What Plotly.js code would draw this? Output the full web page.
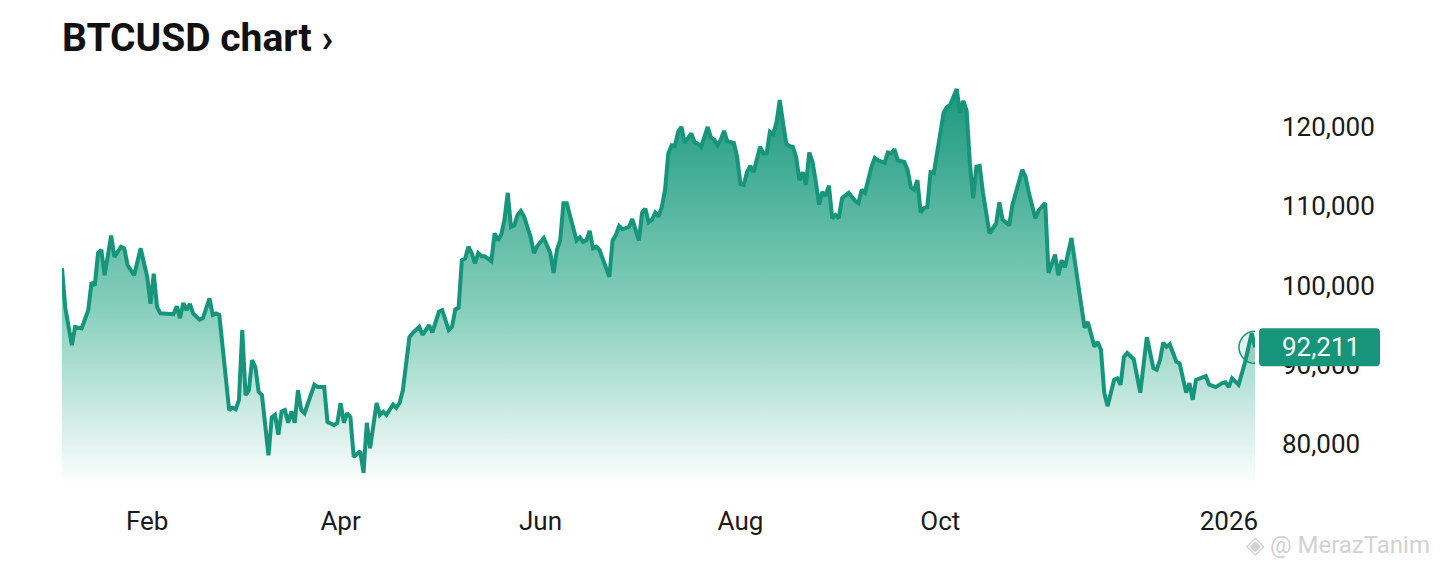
<!DOCTYPE html>
<html>
<head>
<meta charset="utf-8">
<script src="https://cdn.plot.ly/plotly-3.0.1.min.js"></script>
<style>
  html, body { margin: 0; padding: 0; background: #ffffff; }
  #chart { width: 1440px; height: 571px; }
</style>
</head>
<body>
<div id="chart"></div>
<script>
// BTCUSD daily closes (approx.)
const dates = [
  "2025-01-06","2025-01-07","2025-01-09","2025-01-10","2025-01-12","2025-01-14","2025-01-15","2025-01-16","2025-01-17","2025-01-18",
  "2025-01-19","2025-01-21","2025-01-22","2025-01-24","2025-01-25","2025-01-26","2025-01-28","2025-01-30","2025-02-01","2025-02-02",
  "2025-02-03","2025-02-04","2025-02-05","2025-02-09","2025-02-10","2025-02-11","2025-02-12","2025-02-13","2025-02-14","2025-02-15",
  "2025-02-17","2025-02-18","2025-02-20","2025-02-21","2025-02-22","2025-02-23","2025-02-26","2025-02-27","2025-02-28","2025-03-01",
  "2025-03-02","2025-03-03","2025-03-04","2025-03-05","2025-03-06","2025-03-07","2025-03-08","2025-03-10","2025-03-11","2025-03-12",
  "2025-03-13","2025-03-14","2025-03-15","2025-03-16","2025-03-17","2025-03-18","2025-03-19","2025-03-20","2025-03-21","2025-03-24",
  "2025-03-25","2025-03-27","2025-03-28","2025-03-30","2025-03-31","2025-04-01","2025-04-02","2025-04-03","2025-04-04","2025-04-05",
  "2025-04-07","2025-04-08","2025-04-09","2025-04-10","2025-04-12","2025-04-13","2025-04-14","2025-04-15","2025-04-17","2025-04-18",
  "2025-04-19","2025-04-20","2025-04-22","2025-04-23","2025-04-25","2025-04-26","2025-04-28","2025-04-29","2025-05-01","2025-05-02",
  "2025-05-04","2025-05-05","2025-05-06","2025-05-07","2025-05-08","2025-05-09","2025-05-10","2025-05-11","2025-05-12","2025-05-13",
  "2025-05-14","2025-05-15","2025-05-17","2025-05-18","2025-05-19","2025-05-20","2025-05-21","2025-05-22","2025-05-23","2025-05-24",
  "2025-05-25","2025-05-26","2025-05-27","2025-05-29","2025-05-30","2025-05-31","2025-06-02","2025-06-03","2025-06-04","2025-06-05",
  "2025-06-06","2025-06-07","2025-06-08","2025-06-09","2025-06-10","2025-06-12","2025-06-13","2025-06-14","2025-06-15","2025-06-16",
  "2025-06-17","2025-06-18","2025-06-19","2025-06-22","2025-06-23","2025-06-24","2025-06-25","2025-06-26","2025-06-28","2025-06-29",
  "2025-07-01","2025-07-02","2025-07-03","2025-07-04","2025-07-05","2025-07-06","2025-07-07","2025-07-08","2025-07-09","2025-07-10",
  "2025-07-11","2025-07-12","2025-07-13","2025-07-14","2025-07-15","2025-07-16","2025-07-17","2025-07-18","2025-07-19","2025-07-20",
  "2025-07-21","2025-07-22","2025-07-23","2025-07-24","2025-07-25","2025-07-26","2025-07-27","2025-07-28","2025-07-30","2025-07-31",
  "2025-08-01","2025-08-02","2025-08-03","2025-08-04","2025-08-05","2025-08-07","2025-08-08","2025-08-09","2025-08-10","2025-08-11",
  "2025-08-12","2025-08-13","2025-08-14","2025-08-15","2025-08-16","2025-08-17","2025-08-18","2025-08-19","2025-08-20","2025-08-21",
  "2025-08-22","2025-08-23","2025-08-24","2025-08-25","2025-08-26","2025-08-27","2025-08-28","2025-08-29","2025-08-30","2025-08-31",
  "2025-09-01","2025-09-03","2025-09-04","2025-09-05","2025-09-06","2025-09-07","2025-09-08","2025-09-10","2025-09-11","2025-09-12",
  "2025-09-14","2025-09-15","2025-09-16","2025-09-17","2025-09-18","2025-09-20","2025-09-21","2025-09-22","2025-09-23","2025-09-24",
  "2025-09-25","2025-09-26","2025-09-27","2025-09-28","2025-09-29","2025-10-01","2025-10-02","2025-10-03","2025-10-04","2025-10-06",
  "2025-10-07","2025-10-08","2025-10-09","2025-10-10","2025-10-11","2025-10-12","2025-10-13","2025-10-14","2025-10-16","2025-10-18",
  "2025-10-19","2025-10-20","2025-10-22","2025-10-23","2025-10-24","2025-10-26","2025-10-27","2025-10-28","2025-10-30","2025-10-31",
  "2025-11-02","2025-11-03","2025-11-05","2025-11-06","2025-11-07","2025-11-08","2025-11-10","2025-11-11","2025-11-12","2025-11-14",
  "2025-11-15","2025-11-17","2025-11-18","2025-11-19","2025-11-20","2025-11-21","2025-11-23","2025-11-24","2025-11-25","2025-11-26",
  "2025-11-27","2025-11-29","2025-12-01","2025-12-03","2025-12-05","2025-12-06","2025-12-07","2025-12-08","2025-12-09","2025-12-10",
  "2025-12-12","2025-12-13","2025-12-15","2025-12-16","2025-12-17","2025-12-18","2025-12-20","2025-12-21","2025-12-22","2025-12-24",
  "2025-12-26","2025-12-27","2025-12-28","2025-12-29","2025-12-31","2026-01-02","2026-01-04","2026-01-05"
];
const prices = [
  102200,97200,92500,94800,94600,96900,100400,100000,104100,104500,
  101300,106300,103600,104900,104700,102600,101300,104700,101100,97700,
  101500,97300,96500,96400,97400,95900,97800,96900,97700,96500,
  95700,95900,98400,96300,96500,96300,84300,84600,84400,85600,
  94400,86200,86800,90600,89700,86600,86200,78600,83400,83700,
  81200,84100,84300,82700,84100,82700,86800,84300,83900,87500,
  87200,87200,82800,82400,82700,85200,82700,83900,83400,78400,
  79100,76400,82700,79500,85200,83700,84100,83700,85000,84600,
  85200,86800,93500,94000,94800,93800,95000,94100,96700,96900,
  94400,94800,97000,97200,103200,103400,104900,104100,102800,104100,
  103700,103700,103100,106600,105700,106400,108300,111700,107400,107600,
  108900,109400,108700,106100,104100,105000,106000,104900,104100,101600,
  104500,105700,110400,110400,108700,105700,106100,105500,105700,106900,
  104700,104900,104500,101100,105700,106400,107500,107100,107400,108400,
  105700,109200,109700,108000,108300,109200,108700,109900,112100,116700,
  117700,117600,119400,120000,118000,118700,119200,118100,117900,117500,
  118700,120000,118700,118400,117700,118400,119500,118200,118000,116200,
  112800,112700,114300,115100,114300,117500,116700,116700,119400,119100,
  120600,123400,120500,117900,117600,117500,116200,113300,114300,112700,
  116800,115600,113100,110200,111800,111300,112600,108500,108900,108500,
  111000,111700,111200,110700,110400,112100,111700,115000,116100,115800,
  115500,116800,116700,117200,115800,115600,114600,112400,112100,113300,
  109200,109800,109900,114300,114200,119200,121800,122500,122800,124800,
  121800,123300,122100,115500,111000,115000,115100,111700,106600,107800,
  110500,108300,107600,110200,111700,114600,113700,111700,108500,109500,
  110400,101600,103900,101300,103200,102300,106000,102800,100300,94700,
  95400,92300,92900,91900,86500,84800,88100,88300,87500,91000,
  91500,90700,86500,93500,89600,89400,90600,92800,92300,92600,
  90400,90200,86500,87700,85600,88100,88500,88600,87500,87200,
  87700,87800,87200,88300,87500,90400,94000,92211
];
const lastPrice = prices[prices.length - 1];
const lastDate = dates[dates.length - 1];
const tickVals = ["2025-02-01","2025-04-01","2025-06-01","2025-08-01","2025-10-01"];
const tickText = ["Feb","Apr","Jun","Aug","Oct"];
const yearTickVals = ["2026-01-01"];
const yearTickText = ["2026"];
const yTickVals = [80000, 90000, 100000, 110000, 120000];
const yTickText = ["80,000", "90,000", "100,000", "110,000", "120,000"];

const GREEN = "#16957a";
const fmt = v => v.toLocaleString("en-US");

const trace = {
  type: "scatter",
  mode: "lines",
  x: dates,
  y: prices,
  line: { color: GREEN, width: 4, shape: "linear" },
  fill: "tozeroy",
  fillgradient: {
    type: "vertical",
    start: 74850,
    stop: 125500,
    colorscale: [
      [0, "rgba(255,255,255,1)"],
      [0.45, "rgba(125,203,183,0.95)"],
      [1, "rgba(23,150,123,1)"]
    ]
  },
  hoverinfo: "x+y"
};

// carrier for the year tick axis (invisible)
const yearAxisTrace = {
  type: "scatter", mode: "lines",
  x: dates, y: prices, xaxis: "x2",
  line: { width: 0, color: "rgba(0,0,0,0)" },
  hoverinfo: "skip", showlegend: false
};

const layout = {
  width: 1440,
  height: 571,
  margin: { l: 62, r: 185, t: 80, b: 86 },
  paper_bgcolor: "#ffffff",
  plot_bgcolor: "#ffffff",
  showlegend: false,
  font: { family: "Roboto, 'Noto Sans', sans-serif", color: "#1a1a1a" },
  title: {
    text: "<b>BTCUSD chart ›</b>",
    x: 62 / 1440, xanchor: "left", xref: "container",
    y: 1 - 37 / 571, yanchor: "middle", yref: "container",
    font: { family: "Roboto, sans-serif", size: 39, color: "#111111" }
  },
  xaxis: {
    type: "date",
    range: [dates[0], lastDate],
    tickmode: "array",
    tickvals: tickVals,
    ticktext: tickText,
    showgrid: false, zeroline: false, showline: false,
    ticks: "", ticklabelstandoff: 18,
    tickfont: { size: 26, color: "#1a1a1a" },
    fixedrange: true
  },
  xaxis2: {
    type: "date",
    overlaying: "x",
    matches: "x",
    anchor: "y",
    side: "bottom",
    tickmode: "array",
    tickvals: yearTickVals,
    ticktext: yearTickText,
    showgrid: false, zeroline: false, showline: false,
    ticks: "", ticklabelstandoff: 18, ticklabelshift: -13,
    tickfont: { size: 26, color: "#1a1a1a" }
  },
  yaxis: {
    side: "right",
    range: [74855, 125927],
    tickmode: "array",
    tickvals: yTickVals,
    ticktext: yTickText,
    showgrid: false, zeroline: false, showline: false,
    ticks: "", ticklabelstandoff: 26,
    tickfont: { size: 26, color: "#1a1a1a" },
    fixedrange: true
  },
  shapes: [
    {
      type: "circle", layer: "above",
      xref: "x", yref: "y",
      xsizemode: "pixel", ysizemode: "pixel",
      xanchor: lastDate, yanchor: lastPrice,
      x0: -16, x1: 16, y0: -16, y1: 16,
      line: { color: GREEN, width: 1.5 },
      fillcolor: "rgba(23,150,123,0.12)"
    },
    {
      type: "path", layer: "above",
      xref: "paper", yref: "y",
      xsizemode: "pixel", ysizemode: "pixel",
      xanchor: 1, yanchor: lastPrice,
      path: "M 8 -19 L 121 -19 Q 125 -19 125 -15 L 125 15 Q 125 19 121 19 L 8 19 Q 4 19 4 15 L 4 -15 Q 4 -19 8 -19 Z",
      line: { width: 0 },
      fillcolor: GREEN
    }
  ],
  annotations: [
    {
      xref: "paper", yref: "y", x: 1, y: lastPrice,
      xanchor: "center", yanchor: "middle", xshift: 66,
      text: fmt(lastPrice), showarrow: false,
      font: { family: "Roboto, sans-serif", size: 26, color: "#ffffff" }
    },
    {
      xref: "paper", yref: "paper", x: 1, y: 0,
      xanchor: "right", yanchor: "middle", xshift: 177, yshift: -60,
      text: "◈ @ MerazTanim", showarrow: false,
      font: { family: "Roboto, sans-serif", size: 24, color: "#d2d2d2" }
    }
  ]
};

Plotly.newPlot("chart", [trace, yearAxisTrace], layout, { displayModeBar: false, staticPlot: true });
</script>
</body>
</html>
